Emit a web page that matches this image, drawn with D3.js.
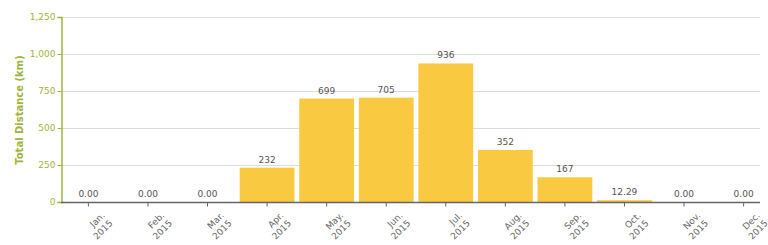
<!DOCTYPE html>
<head>
  <title>Total Distance</title>
  <meta charset="UTF-8" />
  <style>
    body { margin: 0; background: #fff; }
    svg { display: block; font-family: "DejaVu Sans", Verdana, sans-serif; }
  </style>
</head>
<body>
  <svg width="768" height="245"></svg>
</body>

<script src="https://cdn.jsdelivr.net/npm/d3@7"></script>
<script type="module">
  // data
  const months = ["Jan.", "Feb.", "Mar.", "Apr.", "May.", "Jun.", "Jul.", "Aug.", "Sep.", "Oct.", "Nov.", "Dec."];
  const year = "2015";
  const distance = [0, 0, 0, 232, 699, 705, 936, 352, 167, 12.29, 0, 0];
  const yTicks = [0, 250, 500, 750, 1000, 1250];

  const svg = d3.select("svg");
  const green = "#9fb43c";

  const x = d3.scaleBand().domain(months).range([61, 771]).paddingInner(0.08).paddingOuter(0);
  const y = d3.scaleLinear().domain([0, 1250]).range([202, 17]);

  // grid lines
  svg.append("g")
    .selectAll("line")
    .data(yTicks.slice(1))
    .join("line")
    .attr("x1", 61)
    .attr("x2", 760)
    .attr("y1", d => y(d) + 0.5)
    .attr("y2", d => y(d) + 0.5)
    .attr("stroke", "#dcdcdc")
    .attr("stroke-width", 1);

  // bars
  svg.append("g")
    .selectAll("rect")
    .data(distance)
    .join("rect")
    .attr("x", (d, i) => x(months[i]))
    .attr("y", d => y(d))
    .attr("width", x.bandwidth())
    .attr("height", d => y(0) - y(d))
    .attr("fill", "#f9c942");

  // value labels
  const fmt = d => (d >= 100 ? d3.format(".0f")(d) : d3.format(".2f")(d));
  svg.append("g")
    .selectAll("text")
    .data(distance)
    .join("text")
    .attr("x", (d, i) => x(months[i]) + x.bandwidth() / 2)
    .attr("y", d => y(d) - 5)
    .attr("text-anchor", "middle")
    .attr("font-size", "9px")
    .attr("fill", "#555")
    .text(fmt);

  // y axis
  const yAxis = svg.append("g")
    .attr("transform", "translate(61.5,0)")
    .call(d3.axisLeft(y).tickValues(yTicks).tickSize(4).tickFormat(d3.format(",")));
  yAxis.select(".domain").attr("stroke", green).attr("stroke-width", 1.5);
  yAxis.selectAll(".tick line").attr("stroke", green);
  yAxis.selectAll(".tick text")
    .attr("fill", green)
    .attr("font-size", "9px")
    .attr("font-family", "DejaVu Sans")
    .attr("x", -6);

  svg.append("text")
    .attr("transform", "translate(23,110) rotate(-90)")
    .attr("text-anchor", "middle")
    .attr("font-size", "10px")
    .attr("font-weight", "bold")
    .attr("fill", green)
    .text("Total Distance (km)");

  // x axis
  const xAxis = svg.append("g")
    .attr("transform", "translate(0,202.5)")
    .call(d3.axisBottom(x).tickSize(4).tickSizeOuter(0).tickFormat(""));
  xAxis.select(".domain").attr("d", "M61,0H760").attr("stroke", "#666").attr("stroke-width", 1.5);
  xAxis.selectAll(".tick line").attr("stroke", "#666");

  const lbl = svg.append("g")
    .selectAll("text")
    .data(months)
    .join("text")
    .attr("transform", d => `translate(${x(d) + x.bandwidth() / 2 + 17},${216}) rotate(-45)`)
    .attr("text-anchor", "end")
    .attr("font-size", "9px")
    .attr("fill", "#666");
  lbl.append("tspan").attr("x", 0).attr("dy", 0).text(d => d);
  lbl.append("tspan").attr("x", 0).attr("dy", 11).text(year);
</script>
